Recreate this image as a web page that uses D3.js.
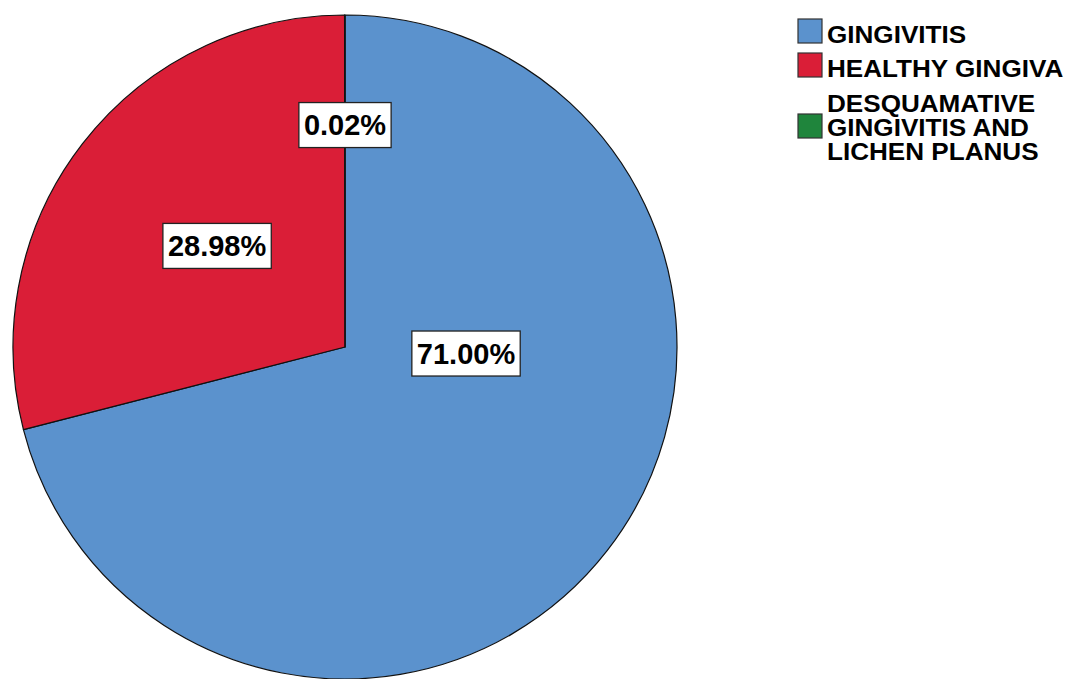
<!DOCTYPE html>
<html>
<head>
<meta charset="utf-8">
<script src="https://cdn.jsdelivr.net/npm/d3@7"></script>
<style>
  html, body { margin: 0; padding: 0; background: #ffffff; }
  svg { display: block; }
  text { font-family: "Liberation Sans", Arial, sans-serif; font-weight: bold; }
</style>
</head>
<body>
<svg id="chart" width="1078" height="679"></svg>
<script>
// ---- data ----
const categories = ["GINGIVITIS", "HEALTHY GINGIVA", "DESQUAMATIVE GINGIVITIS AND LICHEN PLANUS"];
const legendLines = [["GINGIVITIS"], ["HEALTHY GINGIVA"], ["DESQUAMATIVE", "GINGIVITIS AND", "LICHEN PLANUS"]];
const values = [71.00, 28.98, 0.02];
const labels = ["71.00%", "28.98%", "0.02%"];
const colors = ["#5b92cd", "#da1e37", "#1f853c"];

// ---- layout ----
const W = 1078, H = 679;
const cx = 345, cy = 347, R = 332;
const svg = d3.select("#chart");

const pie = d3.pie().sort(null).value(d => d).startAngle(0).endAngle(2 * Math.PI);
const arcs = pie(values);
const arc = d3.arc().innerRadius(0).outerRadius(R);

const g = svg.append("g").attr("transform", `translate(${cx},${cy})`);

g.selectAll("path.slice")
  .data(arcs)
  .enter().append("path")
  .attr("class", "slice")
  .attr("d", arc)
  .attr("fill", (d, i) => colors[i])
  .attr("stroke", "#111")
  .attr("stroke-width", 1.2)
  .attr("stroke-linejoin", "round");

// label placement (polar: angle offset from slice mid, radius fraction) – mimics SPSS placement
const labelPolar = [
  d => ({ a: (d.startAngle + d.endAngle) / 2 - 0.61, r: 0.365 }),
  d => ({ a: (d.startAngle + d.endAngle) / 2 + 0.012, r: 0.492 }),
  d => ({ a: 0, r: 0.67 })
];

const labelFont = 29;
const lg = g.selectAll("g.lbl")
  .data(arcs)
  .enter().append("g")
  .attr("class", "lbl")
  .attr("transform", (d, i) => {
    const p = labelPolar[i](d);
    const x = Math.sin(p.a) * p.r * R;
    const y = -Math.cos(p.a) * p.r * R;
    return `translate(${x},${y})`;
  });

lg.append("rect");
lg.append("text")
  .attr("text-anchor", "middle")
  .attr("y", 10.5)
  .attr("font-size", labelFont)
  .attr("fill", "#000")
  .text((d, i) => labels[i]);

lg.each(function() {
  const t = d3.select(this).select("text").node();
  const w = t.getComputedTextLength();
  d3.select(this).select("rect")
    .attr("x", -w / 2 - 5)
    .attr("y", -22)
    .attr("width", w + 10)
    .attr("height", 45)
    .attr("fill", "#fff")
    .attr("stroke", "#222")
    .attr("stroke-width", 1.3);
});

// ---- legend ----
const legX = 798, sq = 24;
const legendTops = [19, 53, 114];
const legendBaselines = [[43], [77], [112, 136, 160]];
const leg = svg.append("g");
legendLines.forEach((lines, i) => {
  leg.append("rect")
    .attr("x", legX).attr("y", legendTops[i])
    .attr("width", sq).attr("height", sq)
    .attr("fill", colors[i])
    .attr("stroke", "#333").attr("stroke-width", 1.2);
  lines.forEach((ln, j) => {
    const t = leg.append("text")
      .attr("x", 827)
      .attr("y", legendBaselines[i][j])
      .attr("font-size", 23.5)
      .attr("fill", "#000")
      .text(ln);
    const w = t.node().getComputedTextLength();
    t.attr("textLength", w * 1.11).attr("lengthAdjust", "spacingAndGlyphs");
  });
});
</script>
</body>
</html>
